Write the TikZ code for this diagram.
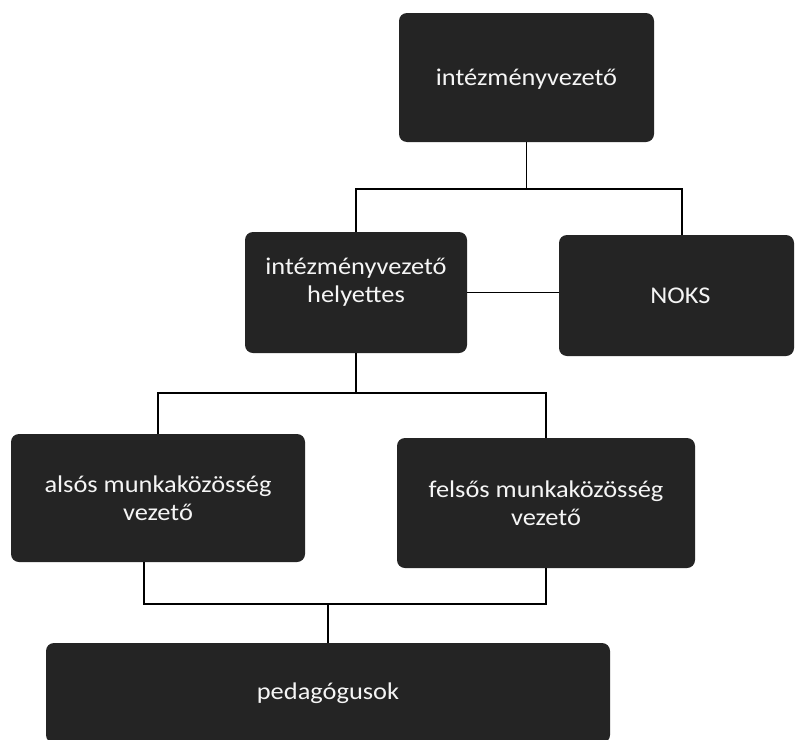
\documentclass[tikz,border=0pt]{standalone}
\usepackage{fontspec}
\setmainfont{Carlito}[FakeStretch=1.1]
\definecolor{boxfill}{rgb}{0.14,0.14,0.14}
\definecolor{boxtext}{rgb}{0.96,0.96,0.96}
\tikzset{
  orgbox/.style={draw=none, fill=boxfill, rounded corners=8pt, text=boxtext,
    align=center, inner sep=0pt, font=\fontsize{24pt}{28pt}\selectfont},
  conn/.style={draw=black, line width=1.8pt}
}
\begin{document}
\begin{tikzpicture}[x=1pt,y=-1pt]
\clip (0,0) rectangle (795,739);
\fill[white] (0,0) rectangle (795,739);
% boxes
\node[orgbox, minimum width=255pt, minimum height=129pt] (top) at (526.5,77.5)
  {\raisebox{-2pt}[\height][\depth]{intézményvezető}};
\node[orgbox, minimum width=222pt, minimum height=121pt] (hely) at (356,292.5)
  {\raisebox{10pt}[\height][\depth]{\begin{tabular}{@{}c@{}}intézményvezető\\helyettes\end{tabular}}};
\node[orgbox, minimum width=235pt, minimum height=121pt] (noks) at (676.5,295.5) {\hspace*{8pt}NOKS};
\node[orgbox, minimum width=294pt, minimum height=128pt] (also) at (158,498)
  {\raisebox{-3pt}[\height][\depth]{\begin{tabular}{@{}c@{}}alsós munkaközösség\\vezető\end{tabular}}};
\node[orgbox, minimum width=298pt, minimum height=130pt] (felso) at (546,503) {felsős munkaközösség\\vezető};
\node[orgbox, minimum width=564pt, minimum height=100pt] (ped) at (328,693) {pedagógusok};
% connector rows
\coordinate (r1) at (0,189);
\coordinate (r2) at (0,393);
\coordinate (r3) at (0,604);
% top level
\draw[conn] (top.south) -- (top.south |- r1);
\draw[conn] (hely.north) |- ([xshift=5.5pt]noks.north |- r1) -- ([xshift=5.5pt]noks.north);
\draw[conn] (hely.east) -- (hely.east -| noks.west);
% middle level
\draw[conn] (hely.south) -- (hely.south |- r2);
\draw[conn] (also.north) |- (felso.north |- r2) -- (felso.north);
% lower level
\draw[conn] ([xshift=-14pt]also.south) |- (felso.south |- r3) -- (felso.south);
\draw[conn] (ped.north) -- (ped.north |- r3);
\end{tikzpicture}
\end{document}
